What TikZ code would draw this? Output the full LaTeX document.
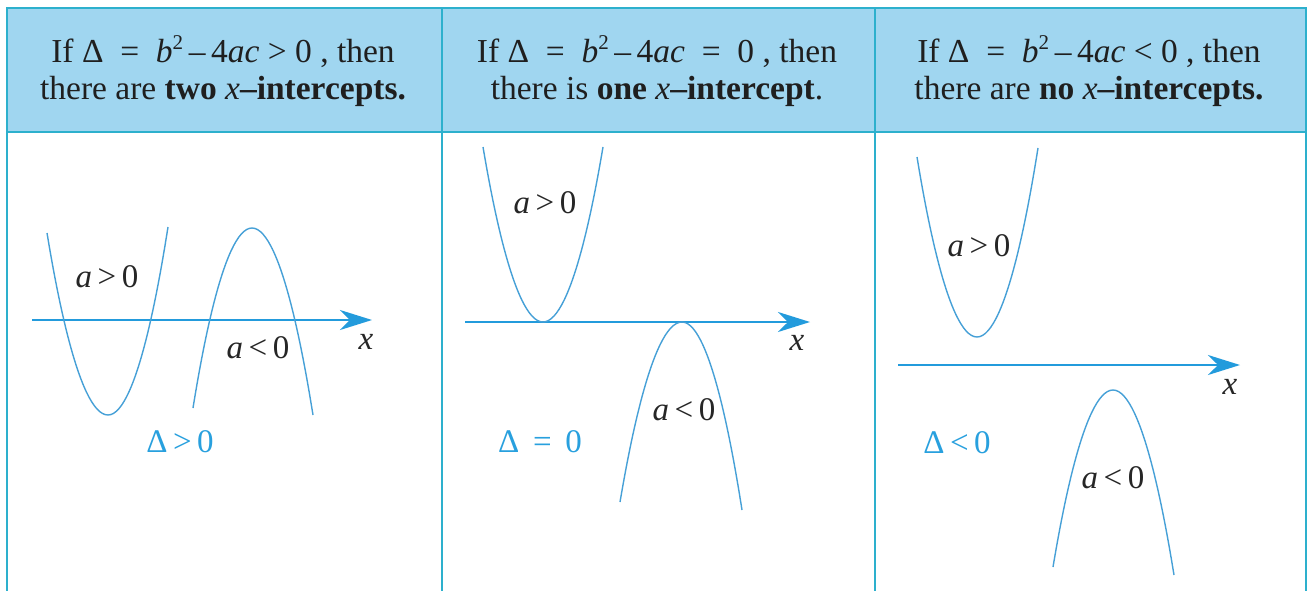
\documentclass[tikz,border=0pt]{standalone}
\usepackage{fontspec}
\setmainfont{Liberation Serif}
\usetikzlibrary{arrows.meta}
\definecolor{hdrfill}{RGB}{160,214,240}
\definecolor{gridcol}{RGB}{45,176,205}
\definecolor{curvecol}{RGB}{70,160,215}
\definecolor{axiscol}{RGB}{35,155,220}
\definecolor{lblblue}{RGB}{40,160,222}
\newcommand{\hdrfont}{\fontsize{33.5}{37}\selectfont}
\newcommand{\lblfont}{\fontsize{33}{36}\selectfont}
\newcommand{\sqr}{\raisebox{0.38em}{\fontsize{21}{21}\selectfont 2}}
\begin{document}
\begin{tikzpicture}[x=1pt,y=-1pt,
  gridline/.style={draw=gridcol,line width=2pt},
  curve/.style={draw=curvecol,line width=1.4pt},
  axis/.style={draw=axiscol,line width=2pt,-{Stealth[length=32pt,width=20pt,inset=10pt]}},
  hdr/.style={align=center,inner sep=0pt,font=\hdrfont,text=black!88},
  lbl/.style={inner sep=0pt,font=\lblfont,text=black!85},
  dlbl/.style={inner sep=0pt,font=\lblfont,text=lblblue}]
\useasboundingbox (0,0) rectangle (1308,591);
\fill[white] (0,0) rectangle (1308,591);
% header
\fill[hdrfill] (7,8) rectangle (1306,132);
\draw[gridline] (7,591) -- (7,8) -- (1306,8) -- (1306,591);
\draw[gridline] (7,132) -- (1306,132);
\draw[gridline] (442,8) -- (442,591);
\draw[gridline] (875,8) -- (875,591);
\node[hdr] (h1) at (223,71) {If Δ\enspace=\enspace\textit{b}\sqr\,–\,4\textit{ac} > 0 , then\\there are \textbf{two} \textit{x}\textbf{–intercepts.}};
\node[hdr] (h2) at (657,71) {If Δ\enspace=\enspace\textit{b}\sqr\,–\,4\textit{ac}\enspace=\enspace0 , then\\there is \textbf{one} \textit{x}\textbf{–intercept}.};
\node[hdr] (h3) at (1089,71) {If Δ\enspace=\enspace\textit{b}\sqr\,–\,4\textit{ac} < 0 , then\\there are \textbf{no} \textit{x}\textbf{–intercepts.}};
% panel 1
\coordinate (a1s) at (32,320);
\coordinate (a1e) at (372,320);
\draw[axis] (a1s) -- (a1e);
\draw[curve] (47,233) parabola bend (108,415) (168,227);
\draw[curve] (193,408) parabola bend (252,228) (313,415);
\node[lbl] (p1a) at (107,277) {\textit{a}\,>\,0};
\node[lbl] (p1b) at (258,348) {\textit{a}\,<\,0};
\node[lbl] (p1x) at (366,342) {\textit{x}};
\node[dlbl] (p1d) at (180,442) {Δ\,>\,0};
% panel 2
\coordinate (a2s) at (465,322);
\coordinate (a2e) at (810,322);
\draw[axis] (a2s) -- (a2e);
\draw[curve] (483,147) parabola bend (543,322) (603,147);
\draw[curve] (620,502) parabola bend (682,322) (742,510);
\node[lbl] (p2a) at (545,203) {\textit{a}\,>\,0};
\node[lbl] (p2b) at (684,410) {\textit{a}\,<\,0};
\node[lbl] (p2x) at (797,343) {\textit{x}};
\node[dlbl] (p2d) at (540,442) {Δ \,=\, 0};
% panel 3
\coordinate (a3s) at (898,365);
\coordinate (a3e) at (1240,365);
\draw[axis] (a3s) -- (a3e);
\draw[curve] (917,157) parabola bend (977,337) (1038,148);
\draw[curve] (1053,567) parabola bend (1113,390) (1174,575);
\node[lbl] (p3a) at (979,246) {\textit{a}\,>\,0};
\node[lbl] (p3b) at (1113,478) {\textit{a}\,<\,0};
\node[lbl] (p3x) at (1230,387) {\textit{x}};
\node[dlbl] (p3d) at (957,443) {Δ\,<\,0};
\end{tikzpicture}
\end{document}
